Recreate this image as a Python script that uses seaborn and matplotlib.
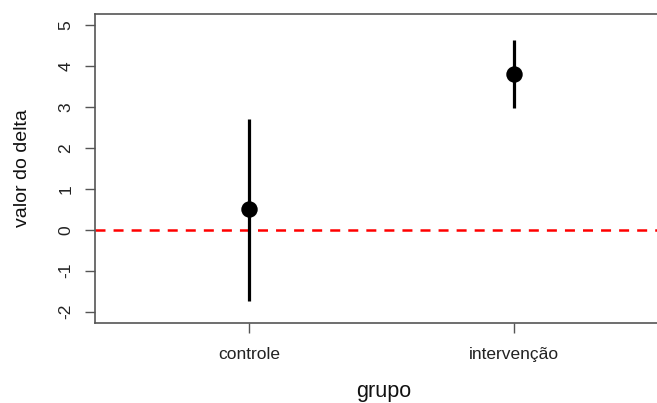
import matplotlib
matplotlib.use("Agg")
import matplotlib.pyplot as plt
import seaborn as sns
import pandas as pd

grupos = ["controle", "intervenção"]
media = [0.51, 3.80]
inferior = [-1.74, 2.97]
superior = [2.71, 4.64]
yticks = [-2, -1, 0, 1, 2, 3, 4, 5]

sns.set_theme(style="white")
plt.rcParams["font.family"] = ["Liberation Sans", "DejaVu Sans"]
plt.rcParams["lines.scale_dashes"] = False

df = pd.DataFrame({"grupo": grupos, "valor": media, "lo": inferior, "hi": superior})

fig = plt.figure(figsize=(6.57, 4.03), dpi=100)
ax = fig.add_axes([95/657, 1-323/403, 573/657, 309/403])

ax.axhline(0, color="#ff0000", lw=1.8, dashes=(7.2, 5.8), zorder=1)
ax.vlines(df["grupo"], df["lo"], df["hi"], color="black", lw=2.3, zorder=2)
sns.scatterplot(data=df, x="grupo", y="valor", color="black", s=140,
                edgecolor="black", linewidth=0, ax=ax, zorder=3)

ax.set_xlim(-0.58, 1.58)
ax.set_ylim(-2.28, 5.28)
ax.set_yticks(yticks)
ax.set_yticklabels([str(v) for v in yticks], rotation=90, va="center")
ax.set_xticks([0, 1])
ax.set_xticklabels(grupos)

for s in ax.spines.values():
    s.set_color("#555555")
    s.set_linewidth(1.2)
ax.tick_params(axis="both", length=7.2, width=1.0, color="#555555",
               labelsize=12.5, labelcolor="#222222", left=True, bottom=True)
ax.tick_params(axis="x", pad=10)
ax.tick_params(axis="y", pad=8.5)

ax.set_xlabel("grupo", fontsize=15.5, color="#111111", va="center")
ax.set_ylabel("valor do delta", fontsize=14, color="#111111", va="center")
ax.xaxis.set_label_coords(0.504, (323-392)/309)
ax.yaxis.set_label_coords((23-95)/573, 0.5)

fig.savefig("out.png", dpi=100)
